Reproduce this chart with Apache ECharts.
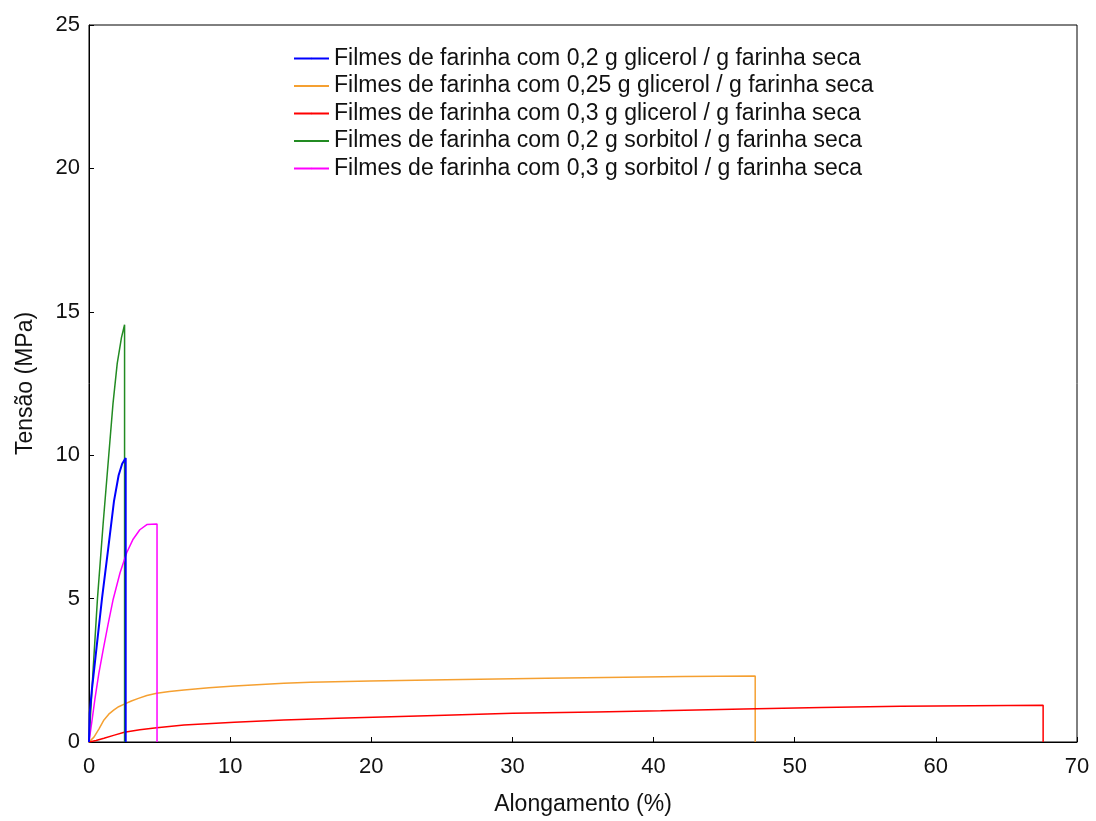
<!DOCTYPE html>
<html>
<head>
<meta charset="utf-8">
<script src="https://cdn.jsdelivr.net/npm/echarts@6/dist/echarts.min.js"></script>
<style>html,body{margin:0;padding:0;background:#fff;}#chart{width:1096px;height:821px;}</style>
</head>
<body>
<div id="chart"></div>
<script>
const seriesNames = [
  'Filmes de farinha com 0,2 g glicerol / g farinha seca',
  'Filmes de farinha com 0,25 g glicerol / g farinha seca',
  'Filmes de farinha com 0,3 g glicerol / g farinha seca',
  'Filmes de farinha com 0,2 g sorbitol / g farinha seca',
  'Filmes de farinha com 0,3 g sorbitol / g farinha seca'
];
const xTicks = [0, 10, 20, 30, 40, 50, 60, 70];
const yTicks = [0, 5, 10, 15, 20, 25];

// Glicerol 0,2
const blueX = [0, 0.05, 0.2, 0.47, 0.92, 1.35, 1.77, 2.1, 2.35, 2.6, 2.6];
const blueY = [0, 1.0, 1.8, 3.0, 5.0, 6.7, 8.4, 9.3, 9.7, 9.9, 0];
// Glicerol 0,25
const orangeX = [0, 0.35, 0.7, 1.06, 1.4, 1.77, 2.1, 2.5, 3.0, 3.5, 4.1, 4.8, 5.7, 6.73, 8.5, 10.3, 13.8, 15.7, 19.9, 25.3, 32.4, 42.1, 47.2, 47.2];
const orangeY = [0, 0.17, 0.45, 0.77, 0.97, 1.12, 1.23, 1.32, 1.43, 1.52, 1.62, 1.70, 1.76, 1.81, 1.89, 1.95, 2.05, 2.08, 2.13, 2.17, 2.22, 2.28, 2.30, 0];
// Glicerol 0,3
const redX = [0, 0.5, 1.06, 1.8, 2.5, 3.6, 4.8, 6.73, 10.3, 13.8, 17.6, 21.4, 25.2, 30.0, 35.9, 40.5, 46.4, 51.9, 57.5, 67.6, 67.6];
const redY = [0, 0.05, 0.13, 0.24, 0.34, 0.43, 0.50, 0.59, 0.69, 0.77, 0.83, 0.88, 0.93, 1.00, 1.05, 1.09, 1.15, 1.20, 1.25, 1.28, 0];
// Sorbitol 0,2
const greenX = [0, 0.3, 0.6, 1.0, 1.4, 1.7, 2.0, 2.3, 2.52, 2.52];
const greenY = [0, 2.6, 5.0, 7.6, 10.0, 11.8, 13.2, 14.1, 14.55, 0];
// Sorbitol 0,3
const magentaX = [0, 0.2, 0.42, 0.7, 1.0, 1.35, 1.7, 2.2, 2.67, 3.1, 3.6, 4.1, 4.82, 4.82];
const magentaY = [0, 0.7, 1.5, 2.4, 3.2, 4.1, 4.95, 5.9, 6.6, 7.05, 7.4, 7.58, 7.6, 0];

const colors = ['#0000ff', '#f5a031', '#ff0000', '#228b22', '#ff00ff'];
const xs = [blueX, orangeX, redX, greenX, magentaX];
const ys = [blueY, orangeY, redY, greenY, magentaY];

const chart = echarts.init(document.getElementById('chart'));
const font = 'Liberation Sans, Arial, sans-serif';
chart.setOption({
  backgroundColor: '#fff',
  animation: false,
  grid: { left: 89, right: 19, top: 25, bottom: 79, show: true, borderColor: '#000', borderWidth: 1, backgroundColor: 'transparent' },
  legend: {
    orient: 'vertical', left: 288, top: 42, itemWidth: 35, itemHeight: 2, itemGap: 4.5,
    textStyle: { fontFamily: font, fontSize: 23, color: '#111' },
    data: seriesNames
  },
  xAxis: {
    type: 'value', min: 0, max: 70, interval: 10,
    name: 'Alongamento (%)', nameLocation: 'middle', nameGap: 51,
    nameTextStyle: { fontFamily: font, fontSize: 23, color: '#111' },
    axisLine: { show: true, lineStyle: { color: '#000' } },
    axisTick: { show: true, inside: true, length: 5, lineStyle: { color: '#000' } },
    axisLabel: { fontFamily: font, fontSize: 22, color: '#111', margin: 14, formatter: v => xTicks.includes(v) ? String(v) : '' },
    splitLine: { show: false }
  },
  yAxis: {
    type: 'value', min: 0, max: 25, interval: 5,
    name: 'Tensão (MPa)', nameLocation: 'middle', nameGap: 52, nameRotate: 90,
    nameTextStyle: { fontFamily: font, fontSize: 23, color: '#111' },
    axisLine: { show: true, lineStyle: { color: '#000' } },
    axisTick: { show: true, inside: true, length: 5, lineStyle: { color: '#000' } },
    axisLabel: { fontFamily: font, fontSize: 22, color: '#111', margin: 9, formatter: v => yTicks.includes(v) ? String(v) : '' },
    splitLine: { show: false }
  },
  series: seriesNames.map((n, i) => ({
    name: n, type: 'line', symbol: 'none', showSymbol: false,
    data: xs[i].map((x, j) => [x, ys[i][j]]),
    lineStyle: { color: colors[i], width: i === 0 ? 2 : 1.5 },
    itemStyle: { color: colors[i] },
    z: i === 0 ? 4 : 3
  }))
});
</script>
</body>
</html>
